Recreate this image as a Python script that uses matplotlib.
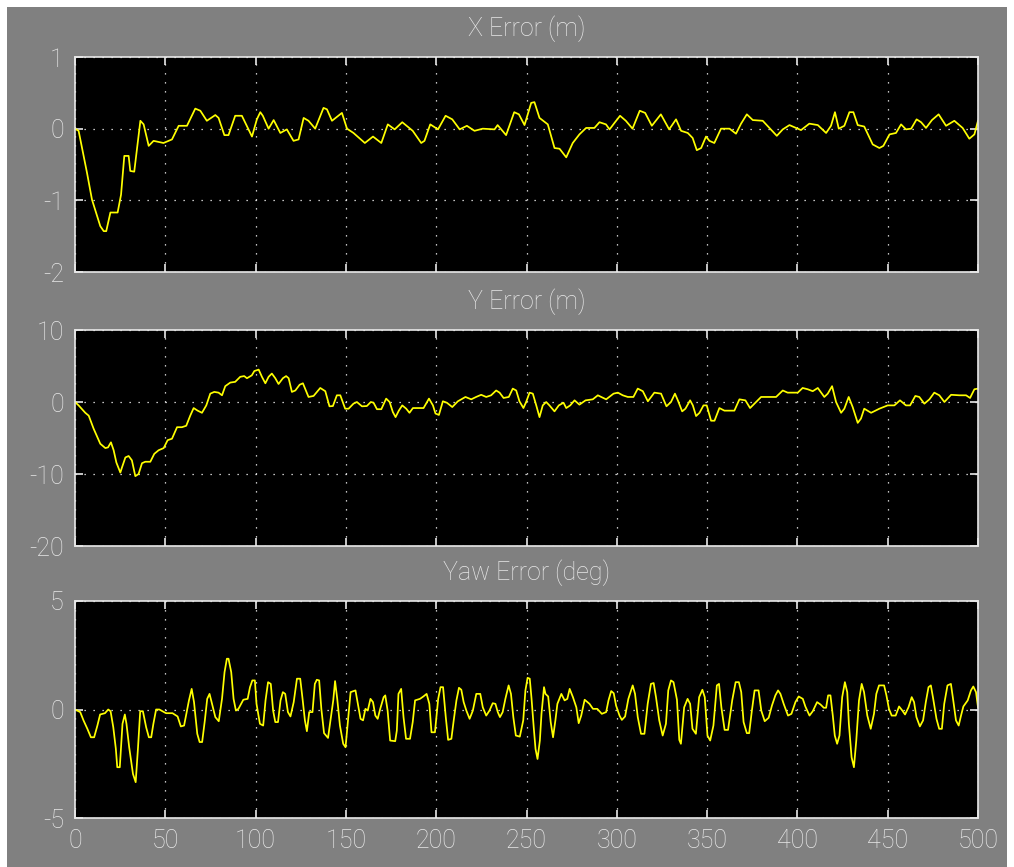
import numpy as np
import matplotlib
matplotlib.use("Agg")
import matplotlib.pyplot as plt
from matplotlib.patches import Rectangle

# scope traces, time in s
t_x = [0, 2, 6.6, 9.4, 14, 15.9, 17.3, 19.6, 23.6, 25.5, 27.3, 29.7, 30.6, 32.8, 34.3, 36.2, 38, 40.8, 43.5, 49,
       53.7, 57.4, 62, 66.6, 69.4, 73, 77.7, 79.5, 82.7, 85, 88.7, 92.4, 96.1, 98, 100.7, 102.6, 104, 107.2, 110,
       113.7, 117.3, 121, 123.8, 126.6, 129.3, 133, 137.6, 139.5, 142.3, 147.8, 150.6, 154.2, 160.5, 165, 169.6,
       173.2, 177, 181.2, 187, 191.7, 193.5, 196.7, 201, 205.2, 208.9, 213, 217, 221.2, 225.8, 232.3, 234, 238.7,
       243.2, 245.8, 248.9, 252.6, 254.4, 257.2, 261.8, 265.5, 268.3, 272, 275.6, 279.3, 283, 287.6, 290.4, 294,
       296, 298.7, 301.8, 305, 308.7, 312.7, 315.7, 319.4, 324.4, 329, 332.8, 335.6, 339.3, 342, 344.3, 346.7,
       349.4, 351.3, 354, 357.7, 362.4, 366, 368.8, 372, 375.3, 380.8, 384.5, 388.6, 391.9, 395.6, 402, 406.6,
       411.3, 415.9, 418.6, 420.8, 422.9, 426, 428.8, 431, 433.4, 437, 441.7, 445.4, 447.6, 451, 454.6, 457.4,
       460.1, 463, 466, 468.5, 471.2, 474.5, 478.2, 482.3, 486.9, 491.5, 495.2, 498, 500]
x_err = [0, -0.03, -0.61, -0.99, -1.36, -1.43, -1.43, -1.17, -1.17, -0.92, -0.38, -0.38, -0.59, -0.60, -0.29,
         0.11, 0.06, -0.24, -0.17, -0.2, -0.15, 0.04, 0.04, 0.28, 0.25, 0.11, 0.19, 0.15, -0.09, -0.09, 0.18, 0.18,
         -0.01, -0.11, 0.13, 0.23, 0.18, 0, 0.12, -0.06, -0.01, -0.17, -0.15, 0.15, 0.11, 0, 0.29, 0.27, 0.11, 0.22,
         0, -0.06, -0.2, -0.11, -0.2, 0.06, -0.01, 0.09, -0.03, -0.2, -0.17, 0.06, -0.01, 0.18, 0.13, -0.01, 0.04,
         -0.03, 0, -0.01, 0.05, -0.09, 0.23, 0.2, 0.05, 0.36, 0.37, 0.15, 0.06, -0.27, -0.28, -0.4, -0.2, -0.08,
         0.01, 0.01, 0.09, 0.06, -0.01, 0.08, 0.18, 0.11, 0, 0.25, 0.22, 0.04, 0.2, -0.01, 0.13, -0.03, -0.06,
         -0.13, -0.3, -0.27, -0.11, -0.17, -0.2, 0, 0, -0.07, 0.07, 0.2, 0.12, 0.11, 0.01, -0.1, -0.01, 0.05, -0.02,
         0.07, 0.05, -0.06, 0.04, 0.23, 0, 0.04, 0.23, 0.23, 0.05, 0.03, -0.22, -0.27, -0.24, -0.08, -0.06, 0.06,
         -0.01, 0, 0.13, 0.09, 0.01, 0.12, 0.2, 0.04, 0.11, 0.01, -0.14, -0.08, 0.11]

t_y = [0, 2, 5.7, 7.6, 10.3, 14, 16.8, 18.3, 19.9, 21.4, 22.9, 25.1, 26, 27.9, 29.7, 31.5, 33.4, 35.2, 37.1, 38.9,
       41.7, 43.9, 46.3, 49.1, 51.3, 53.7, 56.5, 59.2, 61.6, 63.8, 65.7, 67.9, 70.3, 72.7, 74.9, 77.1, 79.5, 81.4,
       83.2, 86, 88.7, 91.5, 93.7, 95.2, 97.9, 99.3, 101.7, 103.5, 105.4, 107.2, 109, 110.9, 112.7, 115.1, 116.9,
       118.3, 120.1, 122, 124.4, 126.2, 129.3, 132.1, 135.8, 138.6, 140.9, 142.8, 145, 146.9, 149.6, 151.5, 154.2,
       156.1, 158.9, 161.6, 163.8, 165.3, 167.2, 169.6, 172.3, 174.2, 176, 177.5, 179.3, 181.2, 183.4, 185.2,
       187.1, 193, 196, 198.2, 199.6, 201.5, 203.7, 205.9, 208.9, 212, 216.2, 219.4, 222.1, 224.9, 227.7, 230.4,
       233.2, 235.1, 237.3, 240.2, 242.4, 244.3, 246.1, 248.3, 249.8, 251.7, 253.5, 255.4, 257.2, 259, 260.9,
       262.7, 265.5, 267.9, 270.5, 272, 274.2, 276.6, 279.3, 282.7, 286.7, 289.5, 294.1, 298.2, 300.6, 303.3,
       306.1, 309.2, 311.6, 314.4, 317.2, 320.8, 324.5, 327.5, 330, 332.2, 333.8, 336.2, 338, 340.6, 342.1, 343.9,
       345.8, 348, 349.8, 352.2, 354.1, 356.8, 359.6, 365.1, 367.9, 371.2, 373.8, 377.1, 379.9, 388.2, 391.9,
       394.6, 400.2, 402.9, 405.7, 408.5, 411.3, 414.9, 416.8, 419.2, 421.4, 424.2, 426, 428.4, 430.6, 433.4,
       435.2, 437, 440.8, 445.4, 450, 453.7, 456.8, 460.1, 462.4, 465.3, 467.5, 470.3, 473.1, 475.8, 478.6, 481.4,
       485.1, 489.7, 493.4, 495.6, 498, 500]
y_err = [0, -0.47, -1.5, -1.9, -3.7, -5.8, -6.4, -6.3, -5.6, -6.7, -8.4, -9.8, -9.1, -7.7, -7.5, -8.1, -10.3, -10,
         -8.5, -8.3, -8.3, -7.2, -6.7, -6.4, -5.3, -5.1, -3.5, -3.5, -3.3, -1.9, -0.84, -1.2, -1.5, -0.47, 1.16, 1.4,
         1.3, 0.93, 2.2, 2.7, 2.8, 3.5, 3.6, 3.3, 3.7, 4.3, 4.5, 3.5, 2.6, 3.5, 3.95, 3.3, 2.5, 3.3, 3.6, 3.3, 1.4,
         1.6, 2.4, 2.6, 0.7, 0.84, 1.95, 1.5, -0.6, -0.56, 0.93, 0.93, -0.93, -0.93, -0.23, 0, -0.6, -0.56, 0, -0.1,
         -1.0, -1.0, 0.47, 0, -1.4, -2.1, -1.2, -0.47, -0.93, -1.5, -0.84, -0.84, 0.47, -0.47, -1.6, -1.8, 0.1,
         -0.1, -0.7, 0.1, 0.7, 0.37, 0.7, 1.0, 0.7, 0.93, 1.6, 1.3, 0.56, 0.7, 1.86, 1.6, 0.1, -0.84, 0, 1.3, 1.16,
         -0.47, -2.1, -0.47, 0, -0.47, -1.3, -0.47, -0.1, -0.84, -0.47, 0.23, -0.37, 0.23, 0.37, 0.93, 0.37, 1.16,
         1.3, 0.93, 0.7, 0.7, 1.86, 1.5, 0.1, 1.3, 1.16, -0.6, 0, 1.16, 0.23, -1.3, -0.93, 0.23, -0.47, -1.95,
         -1.5, -0.47, -0.47, -2.6, -2.6, -0.84, -1.2, -1.2, 0.37, 0.23, -0.84, 0, 0.7, 0.7, 1.6, 1.3, 1.3, 1.95,
         1.77, 1.5, 1.95, 0.7, 1.16, 2.2, 0, -1.5, -0.93, 0.7, -0.7, -2.9, -2.3, -0.93, -1.5, -0.93, -0.47, -0.47,
         0.23, -0.47, -0.47, 0.84, 0.7, -0.23, 0.37, 1.3, 0.93, 0, 1.0, 0.93, 0.93, 0.56, 1.77, 1.86]

t_yaw = [0, 2.9, 4.7, 6.9, 8.8, 10.6, 12.4, 13.9, 16.6, 18.4, 19.7, 21.2, 22.6, 23.4, 24.8, 26.3, 27.6, 28.5, 30,
         32.1, 33.6, 34.9, 36.1, 37.6, 39.4, 40.9, 42.2, 43.4, 44.9, 46.7, 50.4, 54, 56.8, 58.6, 60.4, 61.3, 63.1,
         64.6, 65.9, 67.7, 69, 70.4, 71.9, 73.2, 74.5, 75.9, 77.7, 79.6, 81.4, 82.8, 84.1, 85, 86.5, 87.8, 89.1,
         90.5, 93.2, 95.6, 96.9, 98.2, 99.6, 100.5, 102.4, 104.2, 105.5, 106.9, 108.4, 109.7, 110.9, 112.4, 113.8,
         115.1, 116.4, 117.9, 119.3, 121.1, 122.9, 124.7, 126, 127.3, 128.4, 129.7, 131.5, 132.8, 133.9, 135.2,
         136.4, 137.9, 140.1, 141.6, 143, 144, 145.2, 146.7, 148.5, 149.8, 151.1, 152.6, 155.3, 156.6, 158.1, 159.5,
         160.8, 162.1, 163.6, 165, 166.3, 167.6, 169, 170.9, 171.8, 173.1, 174.5, 177.3, 178.2, 179.1, 180.6,
         181.9, 183.3, 185.5, 187, 188.3, 191, 192.9, 194.7, 196.2, 197.4, 199.3, 201.1, 202.4, 203.8, 205.3,
         206.6, 208.4, 209.7, 211.2, 212.6, 213.9, 215.2, 216.7, 218.5, 220.3, 222.2, 224.4, 225.8, 227.7, 229.5,
         231.3, 232.8, 234.1, 235.3, 236.8, 238.3, 240.1, 241.4, 242.7, 244.1, 246.3, 248.2, 249.4, 250.6, 251.8,
         252.8, 254, 255, 256.1, 257.4, 258.3, 259.7, 260.5, 262, 263.4, 264.7, 266, 267.1, 269.3, 271.1, 272.6,
         273.9, 275.7, 277.6, 278.9, 280.3, 282.2, 284.9, 286.8, 289.2, 291.7, 294.1, 295.4, 296.9, 298.3, 299.6,
         301.5, 302.8, 304.6, 306.4, 308.8, 310.1, 311.6, 313.4, 315.3, 317.1, 318.9, 320.4, 321.7, 323.5, 325.4,
         327.2, 328.5, 330, 331.4, 333.3, 334.6, 335.5, 337.3, 339.2, 340.6, 341.9, 343.8, 345.6, 347.4, 348.7,
         350.2, 351.7, 353.5, 355.4, 356.6, 357.9, 359.7, 361.6, 363.9, 365.8, 367.6, 368.9, 370.2, 372, 373.3,
         374.8, 376.3, 378.5, 380, 381.9, 384.1, 385.9, 387.8, 389.3, 390.6, 392.4, 394.8, 396.7, 398.9, 400.7, 403,
         404.4, 406.7, 408.5, 410.9, 412.8, 414.6, 415.9, 417, 418.3, 419.6, 420.7, 422, 423.3, 424.8, 426.3, 427.6,
         428.5, 430, 431.3, 432.6, 434.1, 435.6, 436.9, 438.7, 440.6, 442.4, 443.7, 445.2, 448, 449.3, 450.7, 452.2,
         454.4, 456.3, 458.1, 459.6, 461.5, 463.3, 464.6, 465.9, 467.8, 469.6, 471.1, 472.6, 473.9, 475.2, 477,
         478.5, 480, 481.3, 483.1, 485, 486.3, 487.8, 489.3, 490.6, 491.9, 494.3, 496.1, 497.4, 498.9, 500]
yaw_err = [0, -0.12, -0.5, -0.9, -1.28, -1.28, -0.74, -0.23, -0.17, 0, -0.08, -0.82, -1.8, -2.66, -2.66, -0.66,
           -0.23, -0.66, -1.74, -2.97, -3.35, -1.74, -0.08, -0.08, -0.82, -1.28, -1.28, -0.66, 0, 0, -0.17, -0.17,
           -0.32, -0.78, -0.74, -0.35, 0.42, 0.95, 0.34, -1.12, -1.5, -1.5, -0.5, 0.49, 0.72, 0.26, -0.35, -0.54,
           0.49, 1.72, 2.34, 2.34, 1.72, 0.49, -0.05, 0.03, 0.45, 0.49, 1.03, 1.34, 1.34, 0.26, -0.66, -0.74, 0.42,
           1.26, 1.18, -0.05, -0.58, -0.58, 0.42, 0.8, 0.72, -0.12, -0.32, 0.34, 1.42, 1.42, 0.49, -0.5, -1, -0.12,
           -0.12, 1.18, 1.37, 1.34, 0.03, -1.09, -1.31, -0.43, 0.42, 1.31, 0.49, -0.74, -1.58, -1.74, -0.58, 0.8,
           0.88, 0.26, -0.43, -0.5, 0.03, -0.05, 0.49, 0.34, -0.28, -0.43, 0.03, 0.57, 0.65, -0.05, -1.43, -1.46,
           -0.97, 0.72, 0.95, -0.35, -1.35, -1.35, -0.58, 0.42, 0.49, 0.6, 0.72, 0.26, -1.05, -1.05, 0.49, 1.03,
           1.03, -0.35, -1.4, -1.35, -0.5, 0.42, 1.0, 0.91, 0.34, -0.05, -0.43, -0.05, 0.72, 0.72, 0.1, -0.28,
           -0.05, 0.29, 0.26, -0.12, -0.35, -0.12, 0.49, 1.11, 0.72, -0.35, -1.2, -1.25, -0.5, 0.88, 1.46, 1.42,
           0.49, -0.82, -1.82, -2.28, -1.43, -0.2, 1.03, 0.72, 0.6, -0.58, -1.28, -0.5, 0.26, 0.72, 0.42, 0.49,
           0.95, 0.57, 0.1, -0.63, -0.28, 0.45, 0.26, 0.03, 0.03, -0.2, -0.12, 0.42, 0.85, 0.75, 0.18, -0.28,
           -0.48, -0.32, 0.49, 1.11, 0.72, -0.35, -1.12, -1.12, 0.26, 1.18, 1.22, 0.57, -0.5, -1.2, -0.66, 0.88,
           1.34, 1.26, 0.45, -1.4, -1.58, 0.1, 0.49, 0.26, -0.89, -1.12, 0.57, 0.91, 0.57, -1.2, -1.43, -0.74,
           1.11, 1.18, 0.1, -0.94, -0.94, 0.42, 1.26, 1.26, 0.8, -0.58, -1.09, -1.09, -0.05, 0.88, 0.88, -0.05,
           -0.54, -0.38, 0.18, 0.65, 0.88, 0.72, 0.26, -0.28, -0.2, 0.34, 0.6, 0.49, 0.14, -0.28, -0.08, 0.34,
           0.23, 0.08, 0.08, 0.65, 0.65, -0.28, -1.2, -1.58, -1.2, 0.57, 1.26, 0.8, -0.66, -2.2, -2.66, -1.43,
           0.42, 1.18, 0.8, -0.28, -0.89, -0.2, 0.72, 1.11, 1.11, 0.65, 0.03, -0.28, -0.28, 0.14, -0.05, -0.23,
           0.1, 0.57, 0.34, -0.35, -0.78, -0.5, 0.34, 1.03, 1.11, 0.49, -0.43, -0.89, -0.89, 0.26, 1.11, 1.18,
           0.42, -0.5, -0.74, -0.28, 0.14, 0.42, 0.88, 1.06, 0.8, 0.1]

titles = ["X Error (m)", "Y Error (m)", "Yaw Error (deg)"]
y_limits = [(-2, 1), (-20, 10), (-5, 5)]
y_ticks = [[-2, -1, 0, 1], [-20, -10, 0, 10], [-5, 0, 5]]
x_ticks = list(range(0, 501, 50))

FG = "#e8e8e8"
BG = "#808080"

plt.rcParams["font.family"] = ["Roboto", "Liberation Sans", "DejaVu Sans"]
plt.rcParams["font.weight"] = "light"
plt.rcParams["axes.titleweight"] = "light"
plt.rcParams["axes.unicode_minus"] = False

fig = plt.figure(figsize=(10.14, 8.67), dpi=100, facecolor="white")
# grey scope window inside a thin white border
fig.patches.append(Rectangle((7 / 1014, 0), 1000 / 1014, 860 / 867, transform=fig.transFigure,
                             facecolor=BG, edgecolor="none", zorder=-10))

positions = [
    [75 / 1014, (867 - 272) / 867, 903 / 1014, 215 / 867],
    [75 / 1014, (867 - 546) / 867, 903 / 1014, 216 / 867],
    [75 / 1014, (867 - 818) / 867, 903 / 1014, 217 / 867],
]
series = [(t_x, x_err), (t_y, y_err), (t_yaw, yaw_err)]

for i, (pos, (t, v)) in enumerate(zip(positions, series)):
    ax = fig.add_axes(pos)
    ax.set_facecolor("black")
    ax.plot(t, v, color="#ffff00", lw=1.25)
    ax.set_xlim(0, 500)
    ax.set_ylim(*y_limits[i])
    ax.set_xticks(x_ticks)
    ax.set_yticks(y_ticks[i])
    ax.grid(True, color="white", linestyle=(0, (1, 6.2)), linewidth=0.9)
    ax.tick_params(direction="in", length=6, width=1.2, color=FG, labelcolor=FG,
                   labelsize=18, top=True, right=True, pad=8)
    if i < 2:
        ax.tick_params(labelbottom=False)
    for sp in ax.spines.values():
        sp.set_color(FG)
        sp.set_linewidth(1.2)
    ax.set_title(titles[i], color=FG, fontsize=18, pad=15)

fig.savefig("out.png", dpi=100, facecolor=fig.get_facecolor())
